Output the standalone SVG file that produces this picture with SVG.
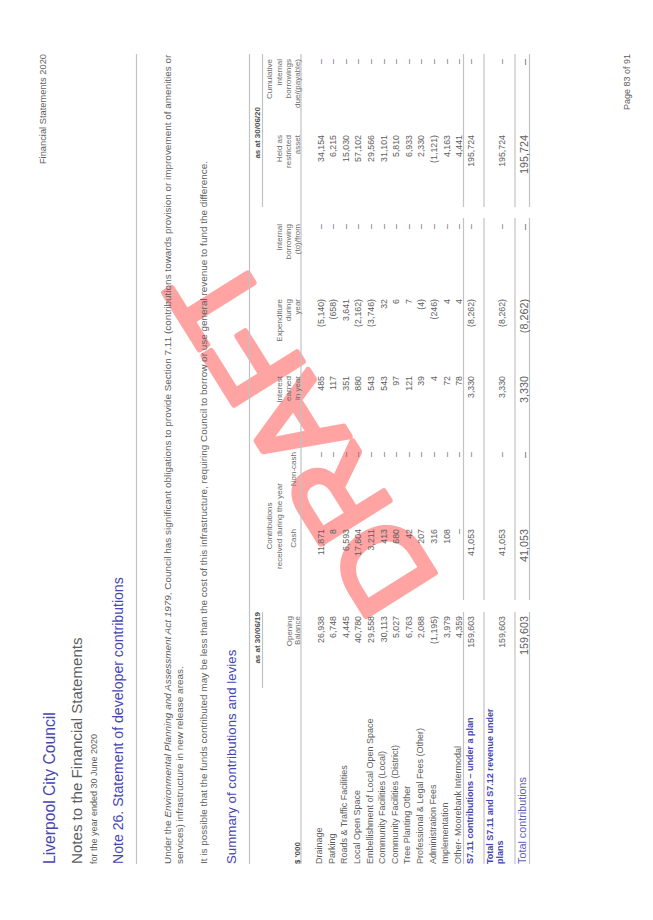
<svg xmlns="http://www.w3.org/2000/svg" width="653" height="920" viewBox="0 0 653 920">
<style>
text{font-family:"Liberation Sans",Arial,sans-serif;fill:#5e5e5e}
.b{fill:#4646b2}
.bd{font-weight:bold;fill:#4646b2}
.r{font-size:8.8px}
.l{font-size:9px}
.h{font-size:8px;fill:#6c6c6c}
.hb{font-size:8px;fill:#505050;font-weight:bold}
.e{text-anchor:end}
.m{text-anchor:middle}
.t{font-size:10.8px;fill:#6060bc}
.n{font-size:8.8px;fill:#6060bc}
.rule{stroke:#c2c2c2;stroke-width:1.2;fill:none}
.wm{font-size:118px;fill:#ffa3a3;stroke:#ffa3a3;stroke-width:6px;stroke-linejoin:round}
</style>
<text class="wm" transform="translate(440,581) rotate(-122)">DRAFT</text>
<g id="page" transform="translate(0,920) rotate(-90)">
<g id="heading">
<text class="b" x="56" y="55" font-size="15.7">Liverpool City Council</text>
<text x="56" y="82" font-size="15.1">Notes to the Financial Statements</text>
<text x="56" y="97" font-size="9">for the year ended 30 June 2020</text>
<text class="b" x="56" y="123" font-size="14.1">Note 26. Statement of developer contributions</text>
<text x="866" y="46" font-size="9.3" class="e">Financial Statements 2020</text>
<text x="866" y="630" font-size="9" class="e">Page 83 of 91</text>
</g>
<path class="rule" d="M56 136.5H866M56 249.5H866M56 301H866"/>
<g id="intro">
<text x="56" y="170.5" font-size="9.95">Under the <tspan font-style="italic">Environmental Planning and Assessment Act 1979</tspan>, Council has significant obligations to provide Section 7.11 (contributions towards provision or improvement of amenities or</text>
<text x="56" y="183" font-size="9.95">services) infrastructure in new release areas.</text>
<text x="56" y="206.5" font-size="9.95">It is possible that the funds contributed may be less than the cost of this infrastructure, requiring Council to borrow or use general revenue to fund the difference.</text>
<text class="b" x="56" y="236" font-size="13.3">Summary of contributions and levies</text>
</g>
<g id="table-head">
<path class="rule" d="M232 262.5H308M713 262.5H866"/>
<text class="hb e" x="308" y="260">as at 30/06/19</text>
<text class="hb e" x="813" y="260">as at 30/06/20</text>
<text class="hb" x="56" y="300">$ '000</text>
<text class="h e" x="304" y="291.5">Opening</text><text class="h e" x="304" y="300">Balance</text>
<text class="h m" x="394" y="272">Contributions</text><text class="h m" x="394" y="281.5">received during the year</text>
<text class="h e" x="391" y="296">Cash</text><text class="h e" x="468" y="296">Non-cash</text>
<text class="h e" x="544" y="282">Interest</text><text class="h e" x="544" y="291">earned</text><text class="h e" x="544" y="300">in year</text>
<text class="h e" x="621" y="282">Expenditure</text><text class="h e" x="621" y="291">during</text><text class="h e" x="621" y="300">year</text>
<text class="h e" x="696" y="282">Internal</text><text class="h e" x="696" y="291">borrowing</text><text class="h e" x="696" y="300">(to)/from</text>
<text class="h e" x="785" y="282">Held as</text><text class="h e" x="785" y="291">restricted</text><text class="h e" x="785" y="300">asset</text>
<text class="h e" x="861" y="272">Cumulative</text><text class="h e" x="861" y="281.5">internal</text><text class="h e" x="861" y="291">borrowings</text><text class="h e" x="861" y="300">due/(payable)</text>
</g>
<g id="table-rows" class="r">
<g class="l" transform="translate(0,-1.4)"><text x="56" y="323.5">Drainage</text><text x="56" y="336">Parking</text><text x="56" y="348.7">Roads &amp; Traffic Facilities</text><text x="56" y="361.3">Local Open Space</text><text x="56" y="374">Embellishment of Local Open Space</text><text x="56" y="386.5">Community Facilities (Local)</text><text x="56" y="399">Community Facilities (District)</text><text x="56" y="411.7">Tree Planting Other</text><text x="56" y="424.3">Professional &amp; Legal Fees (Other)</text><text x="56" y="437">Administration Fees</text><text x="56" y="449.5">Implementation</text><text x="56" y="462">Other- Moorebank Intermodal</text></g>
<g class="r e"><text x="304" y="323.5">26,938</text><text x="304" y="336">6,748</text><text x="304" y="348.7">4,445</text><text x="304" y="361.3">40,780</text><text x="304" y="374">29,558</text><text x="304" y="386.5">30,113</text><text x="304" y="399">5,027</text><text x="304" y="411.7">6,763</text><text x="304" y="424.3">2,088</text><text x="304" y="437">(1,195)</text><text x="304" y="449.5">3,979</text><text x="304" y="462">4,359</text></g>
<g class="r e"><text x="391" y="323.5">11,871</text><text x="391" y="336">8</text><text x="391" y="348.7">6,593</text><text x="391" y="361.3">17,604</text><text x="391" y="374">3,211</text><text x="391" y="386.5">413</text><text x="391" y="399">680</text><text x="391" y="411.7">42</text><text x="391" y="424.3">207</text><text x="391" y="437">316</text><text x="391" y="449.5">108</text><text x="391" y="462">–</text></g>
<g class="r e"><text x="468" y="323.5">–</text><text x="468" y="336">–</text><text x="468" y="348.7">–</text><text x="468" y="361.3">–</text><text x="468" y="374">–</text><text x="468" y="386.5">–</text><text x="468" y="399">–</text><text x="468" y="411.7">–</text><text x="468" y="424.3">–</text><text x="468" y="437">–</text><text x="468" y="449.5">–</text><text x="468" y="462">–</text></g>
<g class="r e"><text x="544" y="323.5">485</text><text x="544" y="336">117</text><text x="544" y="348.7">351</text><text x="544" y="361.3">880</text><text x="544" y="374">543</text><text x="544" y="386.5">543</text><text x="544" y="399">97</text><text x="544" y="411.7">121</text><text x="544" y="424.3">39</text><text x="544" y="437">4</text><text x="544" y="449.5">72</text><text x="544" y="462">78</text></g>
<g class="r e"><text x="621" y="323.5">(5,140)</text><text x="621" y="336">(658)</text><text x="621" y="348.7">3,641</text><text x="621" y="361.3">(2,162)</text><text x="621" y="374">(3,746)</text><text x="621" y="386.5">32</text><text x="621" y="399">6</text><text x="621" y="411.7">7</text><text x="621" y="424.3">(4)</text><text x="621" y="437">(246)</text><text x="621" y="449.5">4</text><text x="621" y="462">4</text></g>
<g class="r e"><text x="696" y="323.5">–</text><text x="696" y="336">–</text><text x="696" y="348.7">–</text><text x="696" y="361.3">–</text><text x="696" y="374">–</text><text x="696" y="386.5">–</text><text x="696" y="399">–</text><text x="696" y="411.7">–</text><text x="696" y="424.3">–</text><text x="696" y="437">–</text><text x="696" y="449.5">–</text><text x="696" y="462">–</text></g>
<g class="r e"><text x="785" y="323.5">34,154</text><text x="785" y="336">6,215</text><text x="785" y="348.7">15,030</text><text x="785" y="361.3">57,102</text><text x="785" y="374">29,566</text><text x="785" y="386.5">31,101</text><text x="785" y="399">5,810</text><text x="785" y="411.7">6,933</text><text x="785" y="424.3">2,330</text><text x="785" y="437">(1,121)</text><text x="785" y="449.5">4,163</text><text x="785" y="462">4,441</text></g>
<g class="r e"><text x="861" y="323.5">–</text><text x="861" y="336">–</text><text x="861" y="348.7">–</text><text x="861" y="361.3">–</text><text x="861" y="374">–</text><text x="861" y="386.5">–</text><text x="861" y="399">–</text><text x="861" y="411.7">–</text><text x="861" y="424.3">–</text><text x="861" y="437">–</text><text x="861" y="449.5">–</text><text x="861" y="462">–</text></g>
</g>
<path class="rule" d="M56 463.5H308M320 463.5H702M713 463.5H866M56 484H308M320 484H702M713 484H866M56 515H308M320 515H702M713 515H866M56 529.5H308M320 529.5H702M713 529.5H866"/>
<g id="totals">
<text class="bd" x="56" y="473" font-size="9">S7.11 contributions – under a plan</text>
<text class="bd" x="56" y="493" font-size="9">Total S7.11 and S7.12 revenue under</text>
<text class="bd" x="56" y="503" font-size="9">plans</text>
<text class="t" x="56" y="526">Total contributions</text>
<g class="n e"><text x="304" y="474">159,603</text><text x="391" y="474">41,053</text><text x="468" y="474">–</text><text x="544" y="474">3,330</text><text x="621" y="474">(8,262)</text><text x="696" y="474">–</text><text x="785" y="474">195,724</text><text x="861" y="474">–</text></g>
<g class="n e"><text x="304" y="505">159,603</text><text x="391" y="505">41,053</text><text x="468" y="505">–</text><text x="544" y="505">3,330</text><text x="621" y="505">(8,262)</text><text x="696" y="505">–</text><text x="785" y="505">195,724</text><text x="861" y="505">–</text></g>
<g class="t e"><text x="304" y="527.5">159,603</text><text x="391" y="527.5">41,053</text><text x="468" y="527.5">–</text><text x="544" y="527.5">3,330</text><text x="621" y="527.5">(8,262)</text><text x="696" y="527.5">–</text><text x="785" y="527.5">195,724</text><text x="861" y="527.5">–</text></g>
</g>
</g>
</svg>
